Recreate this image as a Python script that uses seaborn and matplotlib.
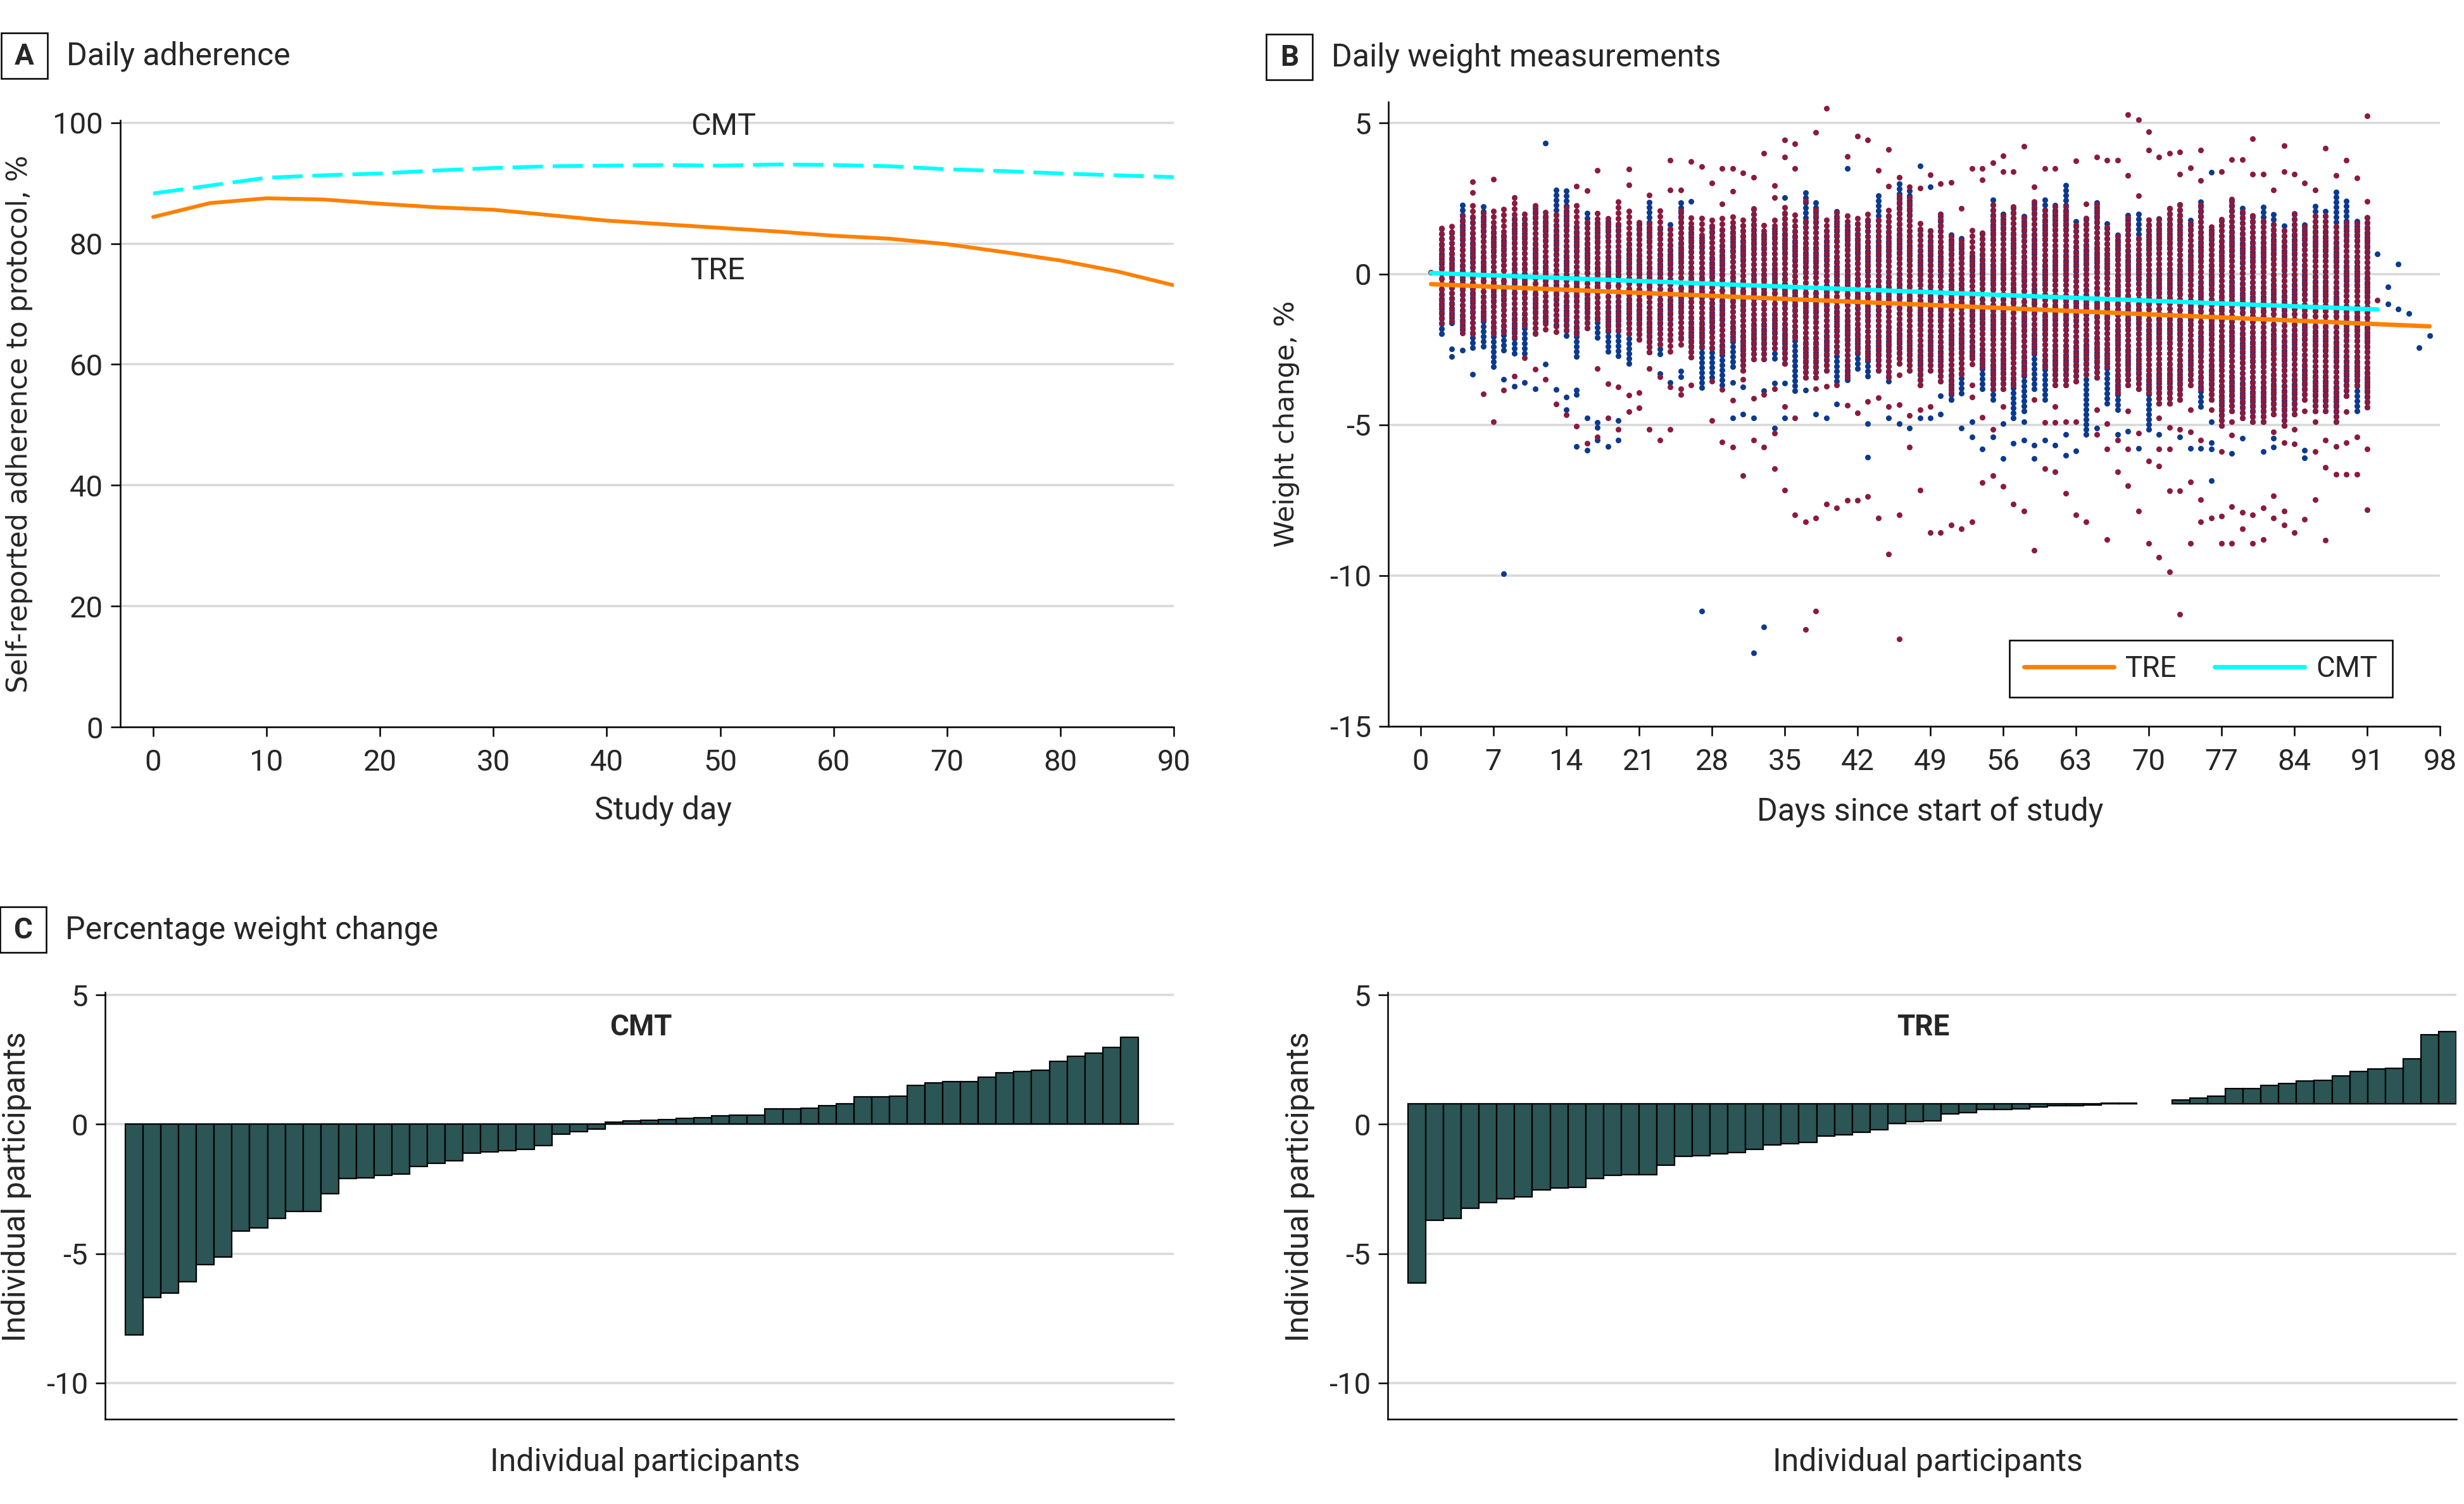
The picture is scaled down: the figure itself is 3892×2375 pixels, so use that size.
import matplotlib
matplotlib.use("Agg")
import matplotlib.pyplot as plt
from matplotlib.lines import Line2D
from matplotlib.patches import Rectangle
import seaborn as sns

# ---- Panel A: daily adherence (%)
study_day = [0, 5, 10, 15, 20, 25, 30, 35, 40, 45, 50, 55, 60, 65, 70, 75, 80, 85, 90]
adh_cmt = [88.3, 89.6, 90.9, 91.3, 91.6, 92.1, 92.5, 92.8, 92.9, 93.0,
           92.9, 93.1, 93.0, 92.8, 92.3, 92.0, 91.6, 91.3, 91.0]
adh_tre = [84.4, 86.7, 87.5, 87.3, 86.6, 86.0, 85.6, 84.7, 83.8, 83.2,
           82.6, 82.0, 81.3, 80.8, 79.9, 78.6, 77.2, 75.4, 73.1]

# ---- Panel B: daily weight change (%), dense per-day stacks (days 2-91)
dense_day = list(range(2, 92))
tre_hi = [1.52, 1.76, 2.00, 2.30, 2.15, 2.10, 2.26, 2.58, 2.09, 2.42,
          2.15, 2.12, 2.30, 2.40, 1.91, 2.18, 2.00, 2.40, 2.08, 1.85,
          1.73, 2.12, 1.67, 2.27, 2.03, 1.97, 1.97, 1.85, 1.97, 1.97,
          2.27, 1.67, 1.91, 2.27, 2.03, 1.79, 2.27, 1.79, 2.15, 1.97,
          2.03, 2.03, 1.91, 2.27, 2.64, 2.52, 1.79, 1.55, 2.03, 1.42,
          1.30, 1.50, 1.42, 2.40, 2.03, 2.27, 2.03, 2.40, 2.27, 2.27,
          2.27, 1.79, 1.91, 2.40, 1.67, 1.30, 2.03, 1.30, 1.79, 1.91,
          2.27, 2.40, 1.79, 2.40, 1.61, 1.91, 2.52, 2.21, 1.97, 1.91,
          1.79, 1.61, 2.03, 1.67, 2.03, 2.03, 1.61, 1.73, 1.79, 1.91]
tre_lo = [-1.62, -1.56, -1.96, -1.98, -1.50, -1.98, -1.92, -2.09, -1.72, -1.98,
          -1.84, -1.92, -1.86, -1.98, -1.80, -1.50, -1.86, -1.86, -1.98, -2.17,
          -2.59, -2.35, -2.57, -2.35, -2.77, -2.41, -2.47, -2.59, -2.17, -3.20,
          -2.83, -2.83, -2.47, -2.96, -2.10, -3.44, -3.44, -3.20, -2.59, -3.44,
          -2.59, -2.83, -3.20, -3.44, -2.96, -3.20, -3.69, -3.20, -3.56, -3.93,
          -3.32, -3.00, -3.08, -3.81, -3.81, -3.69, -3.32, -2.59, -3.08, -3.69,
          -3.69, -3.56, -3.32, -3.44, -3.08, -3.93, -3.69, -3.81, -3.93, -4.29,
          -4.29, -4.17, -3.69, -3.81, -4.17, -5.02, -4.54, -4.78, -4.90, -4.90,
          -4.66, -5.02, -4.66, -4.17, -4.54, -4.54, -4.90, -4.05, -3.69, -4.42]
cmt_hi = [1.64, 1.42, 2.40, 1.85, 2.27, 1.67, 1.42, 1.91, 1.91, 2.26,
          2.03, 2.86, 2.86, 1.67, 2.12, 1.73, 1.73, 1.61, 1.36, 1.73,
          2.46, 1.61, 1.67, 2.46, 1.67, 1.30, 1.60, 1.50, 1.60, 1.60,
          2.29, 1.40, 1.60, 2.00, 1.70, 2.81, 2.50, 1.50, 2.21, 1.70,
          1.80, 1.80, 2.64, 2.00, 3.13, 2.90, 1.60, 1.55, 2.03, 1.42,
          1.30, 0.69, 1.42, 2.54, 2.03, 2.27, 2.03, 2.40, 2.54, 2.27,
          3.09, 1.79, 1.91, 2.40, 1.67, 1.30, 2.03, 2.03, 1.79, 1.91,
          2.27, 2.40, 1.79, 2.40, 1.61, 1.91, 2.52, 2.21, 1.97, 2.21,
          2.12, 1.61, 2.03, 1.67, 2.36, 2.12, 2.73, 2.42, 1.79, 1.91]
cmt_lo = [-1.98, -1.62, -1.86, -2.45, -2.41, -3.08, -2.53, -2.64, -2.64, -1.96,
          -1.56, -1.68, -2.04, -2.74, -1.80, -2.10, -2.58, -2.71, -2.96, -2.17,
          -2.59, -2.66, -2.17, -2.10, -2.77, -3.77, -3.44, -3.69, -3.08, -3.20,
          -2.83, -2.83, -2.80, -2.96, -3.87, -3.44, -3.44, -3.20, -3.56, -3.52,
          -3.13, -3.40, -3.20, -3.56, -2.96, -3.20, -3.69, -3.20, -3.56, -4.17,
          -3.95, -2.71, -3.81, -4.17, -3.81, -4.78, -4.54, -3.81, -4.17, -3.69,
          -3.69, -3.56, -5.33, -3.44, -4.29, -4.50, -3.69, -3.81, -5.15, -4.29,
          -4.29, -4.17, -3.69, -4.40, -4.17, -5.02, -4.54, -4.78, -4.90, -4.90,
          -4.66, -5.02, -4.66, -4.17, -4.54, -4.54, -4.90, -4.05, -4.54, -4.42]

# isolated measurements (day, % change)
tre_points = [
    (1, 0.05), (5, 3.05), (5, 2.70), (6, -3.97), (7, 3.14), (7, -4.91), (8, -3.86),
    (9, -3.38), (10, -2.79), (11, -3.15), (12, -3.49), (13, -4.32), (14, -4.67),
    (15, 2.91), (15, -5.04), (16, 2.76), (16, -5.61), (17, 3.44), (17, -3.14), (17, -5.40),
    (18, -3.65), (18, -4.78), (19, -3.75), (19, -5.16), (20, 3.48), (20, 2.96), (20, -4.03),
    (20, -4.56), (21, -3.93), (21, -4.45), (22, 2.62), (22, -3.14), (22, -5.16),
    (23, -3.42), (23, -5.51), (24, 3.77), (24, 2.79), (24, -3.75), (24, -5.16),
    (25, 2.79), (25, -3.81), (25, -3.99), (26, 3.72), (26, -3.69), (27, 3.55),
    (28, 3.02), (28, -3.56), (28, -4.86), (29, 3.50), (29, 2.31), (29, -3.83), (29, -5.58),
    (30, 3.50), (30, 2.74), (30, -4.18), (30, -5.74), (31, 3.35), (31, -3.50), (31, -6.68),
    (32, 3.20), (32, -4.13), (32, -5.51), (33, 4.00), (33, -4.00), (33, -5.74),
    (34, 2.92), (34, 2.52), (34, -3.81), (34, -5.27), (34, -6.45),
    (35, 4.44), (35, 3.88), (35, -4.39), (35, -7.17), (36, 4.31), (36, 3.50), (36, -4.78),
    (36, -7.98), (37, 2.43), (37, -8.22), (37, -11.78), (38, 4.70), (38, -3.81), (38, -8.10),
    (38, -11.17), (39, 5.50), (39, -3.72), (39, -7.63), (40, -3.69), (40, -7.75),
    (41, 3.89), (41, -4.35), (41, -7.51), (42, 4.56), (42, -4.60), (42, -7.51),
    (43, 4.44), (43, -4.23), (43, -7.38), (44, 3.44), (44, -4.11), (44, -8.10),
    (45, 4.12), (45, 2.90), (45, -4.39), (45, -9.28), (46, 3.20), (46, -3.35), (46, -4.33),
    (46, -7.98), (46, -12.10), (47, 2.88), (47, -4.70), (47, -5.74), (48, 2.85), (48, -4.50),
    (48, -7.17), (49, 3.28), (49, -4.39), (49, -8.58), (50, 3.00), (50, -8.58),
    (51, 3.03), (51, -8.33), (52, 2.18), (52, -8.45), (53, 3.50), (53, -3.69), (53, -4.09),
    (53, -8.21), (54, 3.50), (54, 3.11), (54, -4.76), (54, -6.91), (55, 3.69), (55, -5.15),
    (55, -6.68), (56, 3.91), (56, 3.40), (56, -4.40), (56, -7.04), (57, 3.40), (57, -7.63),
    (58, 4.22), (58, -7.86), (59, 2.88), (59, -4.17), (59, -9.16), (60, 3.50), (60, -4.93),
    (60, -6.45), (61, 3.50), (61, -4.40), (61, -4.93), (61, -6.57), (62, -4.90), (62, -7.27),
    (63, 3.75), (63, -4.90), (63, -7.98), (64, 2.31), (64, -8.21), (65, 3.87), (65, -4.50),
    (65, -5.33), (66, 3.77), (66, -4.96), (66, -5.80), (66, -8.81), (67, 3.77), (67, -5.51),
    (67, -6.57), (68, 5.29), (68, 3.26), (68, -4.54), (68, -5.80), (68, -7.03),
    (69, 5.11), (69, 2.60), (69, -5.27), (69, -7.86), (70, 4.71), (70, 4.10), (70, -6.20),
    (70, -8.93), (71, 3.88), (71, -4.78), (71, -5.80), (71, -6.37), (71, -9.40),
    (72, 4.00), (72, -5.09), (72, -5.80), (72, -7.20), (72, -9.88), (73, 4.05), (73, 3.30),
    (73, -5.15), (73, -7.20), (73, -11.29), (74, 3.52), (74, -4.50), (74, -5.24), (74, -6.89),
    (74, -8.93), (75, 4.10), (75, 3.10), (75, -5.51), (75, -7.48), (75, -8.21),
    (76, -4.51), (76, -8.10), (77, 3.39), (77, -5.89), (77, -8.02), (77, -8.93),
    (78, 3.80), (78, -4.90), (78, -5.34), (78, -7.71), (78, -8.93), (79, 3.80), (79, -7.90),
    (79, -8.45), (80, 4.49), (80, 3.30), (80, -7.98), (80, -8.93), (81, 3.31), (81, -7.75),
    (81, -8.81), (82, 2.79), (82, -5.24), (82, -7.35), (82, -8.10), (83, 4.25), (83, 3.39),
    (83, -5.60), (83, -7.86), (83, -8.33), (84, 3.30), (84, -5.15), (84, -5.63), (84, -8.58),
    (85, 3.02), (85, -4.54), (85, -8.14), (86, 2.79), (86, -4.90), (86, -5.89), (86, -7.48),
    (87, 4.17), (87, -5.51), (87, -6.42), (87, -8.82), (88, 3.26), (88, -5.72), (88, -6.64),
    (89, 3.77), (89, -4.57), (89, -5.60), (89, -6.64), (90, 3.18), (90, -5.40), (90, -6.64),
    (91, 5.24), (91, 2.41), (91, -5.80), (91, -7.82), (92, -0.88),
]
cmt_points = [
    (3, -2.49), (3, -2.74), (4, -2.53), (5, -3.32), (8, -3.50), (8, -9.95), (9, -3.72),
    (10, -3.59), (11, -3.81), (12, 4.33), (12, -2.99), (13, -3.84), (14, -4.09), (14, -4.50),
    (15, -3.85), (15, -4.00), (15, -5.73), (16, -4.78), (16, -5.84), (17, -4.92), (17, -5.10),
    (17, -5.51), (18, -5.73), (19, -4.87), (19, -5.51), (23, -3.30), (24, -3.59),
    (25, -3.22), (25, -3.42), (26, 2.40), (27, -11.18), (30, -3.59), (30, -4.77),
    (31, -3.75), (31, -4.66), (32, -4.77), (32, -12.57), (33, -3.88), (33, -11.70),
    (34, -3.62), (34, -5.11), (35, 2.54), (35, -3.62), (35, -4.77), (37, -3.86), (38, -4.66),
    (39, -4.77), (40, -4.31), (41, 3.50), (43, -4.96), (43, -6.07), (45, -4.77), (46, -4.96),
    (47, -5.11), (48, 3.59), (48, -4.77), (49, 2.88), (49, -4.77), (50, -4.05), (50, -4.66),
    (51, -4.17), (52, -5.11), (53, -4.90), (53, -5.41), (54, -5.80), (55, -5.41),
    (56, -4.96), (56, -6.12), (57, -5.62), (58, -4.90), (58, -5.52), (59, -5.67), (59, -6.12),
    (60, -5.52), (61, -5.67), (62, -5.32), (62, -6.01), (63, -5.86), (65, -5.11), (67, -5.32),
    (68, -5.21), (69, -5.78), (71, -5.32), (73, -5.41), (74, -5.78), (75, -5.78),
    (76, 3.37), (76, -4.90), (76, -5.60), (76, -5.80), (76, -6.85), (78, -5.96), (79, -5.45),
    (81, -5.89), (82, -5.45), (82, -5.75), (85, -5.85), (85, -6.10),
    (92, 0.66), (93, -0.43), (93, -0.99), (94, 0.32), (94, -1.17), (95, -1.31),
    (96, -2.45), (97, -2.04),
]

# fitted trends
trend_day_tre = [1, 49, 97]
trend_tre = [-0.34, -1.03, -1.74]
trend_day_cmt = [1, 92]
trend_cmt = [0.03, -1.18]

# ---- Panel C: percentage weight change per participant (sorted)
cmt_change = [-8.14, -6.71, -6.52, -6.09, -5.43, -5.13, -4.14, -4.00, -3.65, -3.37,
              -3.37, -2.69, -2.10, -2.07, -1.98, -1.93, -1.64, -1.51, -1.41, -1.12,
              -1.06, -1.03, -0.98, -0.83, -0.38, -0.28, -0.18, 0.09, 0.12, 0.15,
              0.18, 0.23, 0.25, 0.32, 0.35, 0.35, 0.59, 0.59, 0.62, 0.72,
              0.79, 1.05, 1.05, 1.08, 1.50, 1.60, 1.64, 1.64, 1.82, 1.99,
              2.05, 2.08, 2.42, 2.63, 2.76, 2.98, 3.35]
# TRE bars are drawn from a shifted baseline in the source figure
TRE_BASE = 0.79
tre_end = [-6.14, -3.71, -3.63, -3.26, -3.02, -2.89, -2.80, -2.53, -2.46, -2.43,
           -2.09, -1.98, -1.96, -1.94, -1.58, -1.24, -1.21, -1.14, -1.09, -0.98,
           -0.80, -0.74, -0.70, -0.46, -0.42, -0.32, -0.21, 0.04, 0.10, 0.14,
           0.39, 0.45, 0.56, 0.56, 0.60, 0.66, 0.72, 0.73, 0.74, 0.81,
           0.82, None, None, 0.95, 1.00, 1.08, 1.38, 1.38, 1.49, 1.58,
           1.67, 1.70, 1.86, 2.04, 2.14, 2.16, 2.52, 3.46, 3.59]

ORANGE = "#ff8000"
CYAN = "#00ffff"
RED = "#8b1a3e"
BLUE = "#0b3a8f"
BAR = "#2c5555"
GRID = "#d9d9d9"

sns.set_theme(style="ticks")
plt.rcParams["font.family"] = ["Roboto", "DejaVu Sans"]
plt.rcParams["axes.unicode_minus"] = False
WIDE = ["DejaVu Sans"]

W, H = 3892, 2375
fig = plt.figure(figsize=(W / 100, H / 100), dpi=100)


def axes_px(left, top, right, bottom):
    return fig.add_axes([left / W, 1 - bottom / H, (right - left) / W, (bottom - top) / H])


def style(ax):
    for s in ["top", "right"]:
        ax.spines[s].set_visible(False)
    for s in ["left", "bottom"]:
        ax.spines[s].set_linewidth(1.8)
        ax.spines[s].set_color("black")
    ax.tick_params(axis="both", length=10.5, width=1.8, color="black", labelsize=34)
    ax.tick_params(axis="y", pad=9)
    ax.tick_params(axis="x", pad=14)
    ax.set_axisbelow(True)
    ax.yaxis.grid(True, color=GRID, lw=2.6)
    ax.xaxis.grid(False)


def panel_tag(letter, left, top, title):
    fig.add_artist(Rectangle((left / W, 1 - (top + 72) / H), 73 / W, 72 / H,
                             transform=fig.transFigure, fill=False, ec="black", lw=1.8))
    fig.text((left + 36.5) / W, 1 - (top + 37) / H, letter, ha="center", va="center",
             fontsize=33, fontweight="bold")
    fig.text((left + 103) / W, 1 - (top + 37) / H, title, ha="left", va="center", fontsize=36)


# ---------------- Panel A
axA = axes_px(190, 190, 1854, 1148)
style(axA)
sns.lineplot(x=study_day, y=adh_cmt, ax=axA, color=CYAN, lw=4.3)
sns.lineplot(x=study_day, y=adh_tre, ax=axA, color=ORANGE, lw=4.3)
axA.lines[0].set_dashes([8, 2.6])
axA.set_xlim(-2.9, 90)
axA.set_ylim(0, 100.4)
axA.set_xticks(range(0, 91, 10))
axA.set_yticks(range(0, 101, 20))
axA.text(50.3, 99.4, "CMT", ha="center", va="center", fontsize=35)
axA.text(49.8, 75.5, "TRE", ha="center", va="center", fontsize=35)
axA.set_xlabel("Study day", fontsize=36)
axA.xaxis.set_label_coords(0.515, -0.112)
axA.xaxis.label.set_va("top")
axA.set_ylabel("Self-reported adherence to protocol, %", fontsize=31.5, family=WIDE)
axA.yaxis.set_label_coords(-0.083, 0.5)
panel_tag("A", 2, 52, "Daily adherence")

# ---------------- Panel B
axB = axes_px(2193, 161, 3854, 1147)
style(axB)
axB.vlines(dense_day, cmt_lo, cmt_hi, colors=BLUE, lw=6.6,
           linestyles=[(0, (0.01, 0.85))], capstyle="round", zorder=2)
axB.vlines(dense_day, tre_lo, tre_hi, colors=RED, lw=6.6,
           linestyles=[(0, (0.01, 0.95))], capstyle="round", zorder=3)
sns.scatterplot(x=[d for d, _ in cmt_points], y=[v for _, v in cmt_points], ax=axB,
                color=BLUE, s=42, linewidth=0, zorder=3)
sns.scatterplot(x=[d for d, _ in tre_points], y=[v for _, v in tre_points], ax=axB,
                color=RED, s=42, linewidth=0, zorder=4)
sns.lineplot(x=trend_day_tre, y=trend_tre, ax=axB, color=ORANGE, lw=5, zorder=6)
sns.lineplot(x=trend_day_cmt, y=trend_cmt, ax=axB, color=CYAN, lw=5, zorder=6)
axB.set_xlim(-3.1, 98)
axB.set_ylim(-15, 5.7)
axB.set_xticks(range(0, 99, 7))
axB.set_yticks([-15, -10, -5, 0, 5])
axB.set_xlabel("Days since start of study", fontsize=36)
axB.xaxis.set_label_coords(0.515, -0.112)
axB.xaxis.label.set_va("top")
axB.set_ylabel("Weight change, %", fontsize=31, family=WIDE)
axB.yaxis.set_label_coords(-0.084, 0.484)
handles = [Line2D([], [], color=ORANGE, lw=5), Line2D([], [], color=CYAN, lw=5)]
leg = axB.legend(handles, ["TRE", "CMT"], ncol=2, loc="center", bbox_to_anchor=(0.7725, 0.0925),
                 frameon=True, fancybox=False, edgecolor="black", framealpha=1, fontsize=33,
                 handlelength=3.1, handletextpad=0.4, columnspacing=1.3, borderpad=0.5,
                 borderaxespad=0)
leg.get_frame().set_linewidth(1.8)
panel_tag("B", 2000, 54, "Daily weight measurements")

# ---------------- Panel C
panel_tag("C", 0, 1432, "Percentage weight change")


def bar_panel(ax, values, label, order, ylab_x):
    style(ax)
    sns.barplot(x=order, y=values, order=order, ax=ax, color=BAR, saturation=1,
                width=1.0, edgecolor="black", linewidth=1.6)
    ax.set_xlim(-1.64, 58.5)
    ax.set_ylim(-11.4, 5.1)
    ax.set_yticks([-10, -5, 0, 5])
    ax.tick_params(axis="x", bottom=False, labelbottom=False)
    ax.set_xlabel("Individual participants", fontsize=36)
    ax.xaxis.set_label_coords(0.505, -0.066)
    ax.xaxis.label.set_va("top")
    ax.set_ylabel("Individual participants", fontsize=36)
    ax.yaxis.set_label_coords(ylab_x, 0.545)
    ax.text(28.5, 3.75, label, ha="center", va="center", fontsize=33, fontweight="bold")


axC1 = axes_px(166, 1567, 1854, 2241)
bar_panel(axC1, cmt_change, "CMT", list(range(len(cmt_change))), -0.069)

axC2 = axes_px(2192, 1567, 3880, 2241)
tre_height = [None if v is None else v - TRE_BASE for v in tre_end]
bar_panel(axC2, [float("nan") if v is None else v for v in tre_height], "TRE",
          list(range(len(tre_end))), -0.068)
for p in axC2.patches:
    p.set_y(p.get_y() + TRE_BASE)

fig.savefig("out.png", dpi=100)
